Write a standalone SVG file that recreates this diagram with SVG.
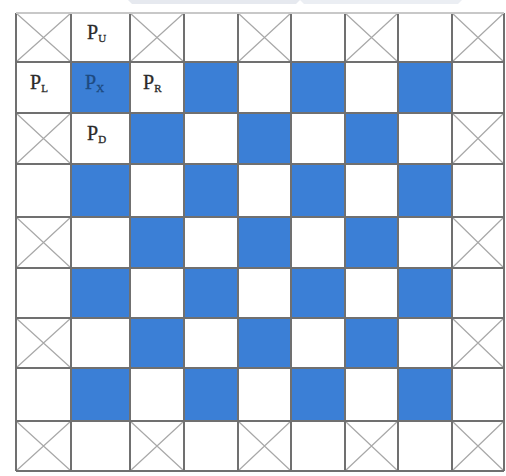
<svg xmlns="http://www.w3.org/2000/svg" width="506" height="476" viewBox="0 0 506 476">
<defs>
<style>
.b{fill:#3b7fd6}
.x{stroke:#a8a8a8;stroke-width:1.2;fill:none}
.g{stroke:#707070;stroke-width:2;fill:none}
.t{font-family:"Liberation Serif",serif;font-size:20px;fill:#2a2a2a;stroke:#2a2a2a;stroke-width:0.3}
.s{font-size:11px}
</style>
</defs>
<rect width="506" height="476" fill="#ffffff"/>
<polygon points="128,0 300,0 296,4 132,4" fill="#e6e9ef"/>
<polygon points="300,0 462,0 458,4 304,4" fill="#ebeef3"/>
<g id="cells">
<rect class="b" x="71" y="62" width="59" height="51"/>
<rect class="b" x="184" y="62" width="54" height="51"/>
<rect class="b" x="291" y="62" width="54" height="51"/>
<rect class="b" x="398" y="62" width="54" height="51"/>
<rect class="b" x="130" y="113" width="54" height="51"/>
<rect class="b" x="238" y="113" width="53" height="51"/>
<rect class="b" x="345" y="113" width="53" height="51"/>
<rect class="b" x="71" y="164" width="59" height="53"/>
<rect class="b" x="184" y="164" width="54" height="53"/>
<rect class="b" x="291" y="164" width="54" height="53"/>
<rect class="b" x="398" y="164" width="54" height="53"/>
<rect class="b" x="130" y="217" width="54" height="51"/>
<rect class="b" x="238" y="217" width="53" height="51"/>
<rect class="b" x="345" y="217" width="53" height="51"/>
<rect class="b" x="71" y="268" width="59" height="50"/>
<rect class="b" x="184" y="268" width="54" height="50"/>
<rect class="b" x="291" y="268" width="54" height="50"/>
<rect class="b" x="398" y="268" width="54" height="50"/>
<rect class="b" x="130" y="318" width="54" height="50"/>
<rect class="b" x="238" y="318" width="53" height="50"/>
<rect class="b" x="345" y="318" width="53" height="50"/>
<rect class="b" x="71" y="368" width="59" height="53"/>
<rect class="b" x="184" y="368" width="54" height="53"/>
<rect class="b" x="291" y="368" width="54" height="53"/>
<rect class="b" x="398" y="368" width="54" height="53"/>
</g>
<g id="crosses" class="x">
<path d="M16,13L71,62M71,13L16,62"/>
<path d="M130,13L184,62M184,13L130,62"/>
<path d="M238,13L291,62M291,13L238,62"/>
<path d="M345,13L398,62M398,13L345,62"/>
<path d="M452,13L504,62M504,13L452,62"/>
<path d="M16,113L71,164M71,113L16,164"/>
<path d="M452,113L504,164M504,113L452,164"/>
<path d="M16,217L71,268M71,217L16,268"/>
<path d="M452,217L504,268M504,217L452,268"/>
<path d="M16,318L71,368M71,318L16,368"/>
<path d="M452,318L504,368M504,318L452,368"/>
<path d="M16,421L71,471M71,421L16,471"/>
<path d="M130,421L184,471M184,421L130,471"/>
<path d="M238,421L291,471M291,421L238,471"/>
<path d="M345,421L398,471M398,421L345,471"/>
<path d="M452,421L504,471M504,421L452,471"/>
</g>
<g id="grid" class="g">
<path d="M16,13V471M71,13V471M130,13V471M184,13V471M238,13V471M291,13V471M345,13V471M398,13V471M452,13V471M504,13V471"/>
<path d="M16,62H504M16,113H504M16,164H504M16,217H504M16,268H504M16,318H504M16,368H504M16,421H504M16,471H504"/>
<path d="M16,13H504" stroke="#c8c8c8"/>
</g>
<g id="labels">
<g id="pu"><text class="t" x="87" y="39">P<tspan class="s" dy="3">U</tspan></text></g>
<g id="pl"><text class="t" x="30" y="89">P<tspan class="s" dy="3">L</tspan></text></g>
<g id="px"><text class="t" x="85" y="89" style="fill:#1d4a80;stroke:#1d4a80">P<tspan class="s" dy="3">X</tspan></text></g>
<g id="pr"><text class="t" x="143" y="89">P<tspan class="s" dy="3">R</tspan></text></g>
<g id="pd"><text class="t" x="87" y="140">P<tspan class="s" dy="3">D</tspan></text></g>
</g>
</svg>
